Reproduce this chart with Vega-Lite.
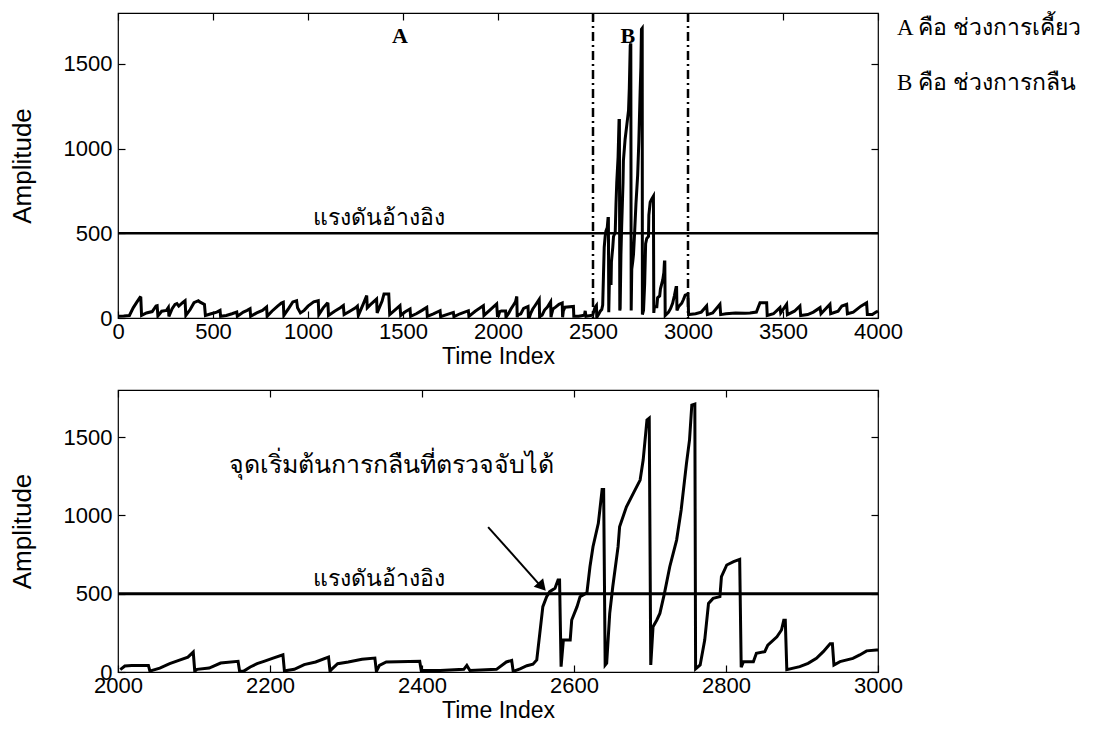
{
  "$schema": "https://vega.github.io/schema/vega-lite/v6.json",
  "padding": {"left": 8, "top": 11, "right": 5, "bottom": 5},
  "spacing": 19,
  "background": "white",
  "config": {
    "view": {"stroke": "black", "strokeWidth": 1.2},
    "axis": {
      "domain": false, "grid": false, "tickColor": "black", "tickSize": -7, "tickWidth": 1.2,
      "labelFont": "Liberation Sans", "labelFontSize": 22, "labelColor": "black",
      "labelFlush": false, "labelOverlap": false, "format": "d",
      "titleFont": "Liberation Sans", "titleFontSize": 23, "titleFontWeight": "normal", "titleColor": "black"
    }
  },
  "datasets": {
    "sig": [
      {"t":0,"v":10},{"t":30,"v":12},{"t":60,"v":15},{"t":80,"v":60},{"t":100,"v":95},{"t":116,"v":122},{"t":120,"v":120},{"t":124,"v":15},
      {"t":150,"v":30},{"t":180,"v":38},{"t":200,"v":70},{"t":206,"v":72},{"t":210,"v":12},
      {"t":230,"v":40},{"t":255,"v":45},{"t":265,"v":62},{"t":268,"v":10},
      {"t":285,"v":55},{"t":300,"v":80},{"t":310,"v":85},{"t":320,"v":70},{"t":340,"v":90},{"t":353,"v":102},{"t":357,"v":15},
      {"t":380,"v":50},{"t":400,"v":90},{"t":423,"v":102},{"t":430,"v":95},{"t":455,"v":80},{"t":460,"v":15},
      {"t":490,"v":25},{"t":520,"v":35},{"t":537,"v":45},{"t":540,"v":10},
      {"t":570,"v":15},{"t":600,"v":25},{"t":625,"v":35},{"t":628,"v":10},
      {"t":660,"v":35},{"t":680,"v":45},{"t":695,"v":55},{"t":698,"v":10},
      {"t":730,"v":30},{"t":760,"v":45},{"t":782,"v":65},{"t":785,"v":10},
      {"t":810,"v":40},{"t":840,"v":70},{"t":860,"v":88},{"t":870,"v":93},{"t":873,"v":15},
      {"t":900,"v":60},{"t":920,"v":95},{"t":940,"v":102},{"t":945,"v":60},{"t":960,"v":30},
      {"t":980,"v":45},{"t":1000,"v":70},{"t":1030,"v":95},{"t":1054,"v":102},{"t":1057,"v":20},
      {"t":1080,"v":60},{"t":1100,"v":85},{"t":1105,"v":83},{"t":1108,"v":15},
      {"t":1140,"v":40},{"t":1170,"v":60},{"t":1186,"v":73},{"t":1190,"v":20},
      {"t":1220,"v":40},{"t":1250,"v":60},{"t":1260,"v":70},{"t":1265,"v":15},
      {"t":1290,"v":80},{"t":1309,"v":132},{"t":1312,"v":60},{"t":1330,"v":80},{"t":1361,"v":112},{"t":1364,"v":30},
      {"t":1390,"v":100},{"t":1400,"v":142},{"t":1425,"v":142},{"t":1430,"v":20},
      {"t":1460,"v":50},{"t":1484,"v":73},{"t":1488,"v":15},
      {"t":1510,"v":35},{"t":1537,"v":53},{"t":1540,"v":10},
      {"t":1570,"v":25},{"t":1600,"v":45},{"t":1625,"v":63},{"t":1628,"v":10},
      {"t":1660,"v":25},{"t":1695,"v":43},{"t":1698,"v":8},
      {"t":1730,"v":20},{"t":1765,"v":33},{"t":1768,"v":8},
      {"t":1800,"v":25},{"t":1844,"v":43},{"t":1847,"v":10},
      {"t":1880,"v":40},{"t":1923,"v":73},{"t":1926,"v":15},
      {"t":1960,"v":50},{"t":1993,"v":83},{"t":1997,"v":15},
      {"t":2003,"v":15},{"t":2009,"v":38},{"t":2018,"v":42},{"t":2040,"v":42},{"t":2042,"v":5},
      {"t":2045,"v":10},{"t":2055,"v":25},{"t":2068,"v":53},{"t":2080,"v":74},{"t":2092,"v":95},{"t":2099,"v":127},{"t":2101,"v":5},
      {"t":2104,"v":17},{"t":2120,"v":25},{"t":2135,"v":57},{"t":2158,"v":68},{"t":2160,"v":5},
      {"t":2165,"v":4},{"t":2174,"v":32},{"t":2183,"v":53},{"t":2192,"v":68},{"t":2205,"v":90},{"t":2217,"v":110},{"t":2219,"v":5},
      {"t":2222,"v":10},{"t":2232,"v":17},{"t":2245,"v":47},{"t":2260,"v":64},{"t":2277,"v":95},{"t":2279,"v":5},
      {"t":2281,"v":17},{"t":2289,"v":53},{"t":2303,"v":64},{"t":2321,"v":81},{"t":2338,"v":89},{"t":2340,"v":4},
      {"t":2344,"v":42},{"t":2353,"v":64},{"t":2397,"v":68},{"t":2399,"v":10},
      {"t":2424,"v":10},{"t":2455,"v":17},{"t":2459,"v":42},{"t":2463,"v":10},
      {"t":2498,"v":17},{"t":2511,"v":64},{"t":2518,"v":74},{"t":2520,"v":4},
      {"t":2529,"v":20},{"t":2538,"v":40},{"t":2546,"v":50},{"t":2551,"v":77},{"t":2555,"v":247},{"t":2559,"v":417},{"t":2564,"v":481},{"t":2568,"v":513},{"t":2575,"v":534},{"t":2579,"v":587},{"t":2581,"v":587},{"t":2583,"v":34},
      {"t":2586,"v":204},{"t":2595,"v":204},{"t":2597,"v":332},{"t":2604,"v":417},{"t":2608,"v":481},{"t":2617,"v":506},{"t":2621,"v":672},{"t":2625,"v":800},{"t":2632,"v":949},{"t":2634,"v":1034},{"t":2637,"v":1165},{"t":2639,"v":1165},{"t":2641,"v":45},
      {"t":2643,"v":57},{"t":2647,"v":374},{"t":2651,"v":544},{"t":2658,"v":800},{"t":2660,"v":927},{"t":2669,"v":1055},{"t":2678,"v":1140},{"t":2687,"v":1225},{"t":2691,"v":1353},{"t":2696,"v":1608},{"t":2699,"v":1620},{"t":2701,"v":45},
      {"t":2704,"v":289},{"t":2709,"v":332},{"t":2713,"v":374},{"t":2719,"v":502},{"t":2726,"v":672},{"t":2735,"v":842},{"t":2741,"v":1034},{"t":2748,"v":1332},{"t":2752,"v":1481},{"t":2755,"v":1704},{"t":2759,"v":1710},{"t":2760,"v":20},
      {"t":2766,"v":45},{"t":2772,"v":204},{"t":2777,"v":438},{"t":2783,"v":470},{"t":2792,"v":481},{"t":2794,"v":608},{"t":2801,"v":683},{"t":2810,"v":704},{"t":2818,"v":719},{"t":2820,"v":30},
      {"t":2823,"v":66},{"t":2836,"v":66},{"t":2840,"v":119},{"t":2851,"v":130},{"t":2855,"v":172},{"t":2867,"v":225},{"t":2873,"v":268},{"t":2876,"v":330},{"t":2878,"v":330},{"t":2880,"v":15},
      {"t":2897,"v":34},{"t":2908,"v":55},{"t":2919,"v":87},{"t":2928,"v":130},{"t":2937,"v":180},{"t":2940,"v":180},{"t":2942,"v":45},
      {"t":2950,"v":66},{"t":2967,"v":87},{"t":2976,"v":109},{"t":2985,"v":135},{"t":2998,"v":140},{"t":3000,"v":140},
      {"t":3003,"v":20},{"t":3040,"v":25},{"t":3070,"v":35},{"t":3098,"v":71},{"t":3102,"v":20},
      {"t":3130,"v":30},{"t":3168,"v":81},{"t":3172,"v":20},
      {"t":3200,"v":25},{"t":3250,"v":30},{"t":3300,"v":28},{"t":3326,"v":30},{"t":3360,"v":35},{"t":3379,"v":90},{"t":3414,"v":90},{"t":3417,"v":15},
      {"t":3450,"v":25},{"t":3484,"v":61},{"t":3488,"v":30},{"t":3519,"v":81},{"t":3523,"v":20},
      {"t":3560,"v":40},{"t":3589,"v":71},{"t":3593,"v":15},
      {"t":3630,"v":20},{"t":3660,"v":35},{"t":3695,"v":61},{"t":3700,"v":25},{"t":3747,"v":81},{"t":3751,"v":25},
      {"t":3790,"v":40},{"t":3810,"v":71},{"t":3835,"v":81},{"t":3839,"v":25},
      {"t":3870,"v":35},{"t":3910,"v":70},{"t":3940,"v":90},{"t":3944,"v":20},
      {"t":3970,"v":20},{"t":3990,"v":35},{"t":4000,"v":40}
    ]
  },
  "vconcat": [
    {
      "width": 760, "height": 305,
      "layer": [
        {
          "data": {"name": "sig"},
          "mark": {"type": "line", "color": "black", "strokeWidth": 3, "clip": true},
          "encoding": {
            "x": {"field": "t", "type": "quantitative", "scale": {"domain": [0, 4000], "nice": false},
                  "axis": {"orient": "bottom", "title": "Time Index", "values": [0,500,1000,1500,2000,2500,3000,3500,4000], "labelPadding": 10, "titlePadding": -3, "minExtent": 30, "maxExtent": 30}},
            "y": {"field": "v", "type": "quantitative", "scale": {"domain": [0, 1800], "nice": false},
                  "axis": {"orient": "left", "title": "Amplitude", "titleFontSize": 26, "values": [0,500,1000,1500], "labelPadding": 13, "titleX": -96, "titleBaseline": "middle", "minExtent": 60, "maxExtent": 60}}
          }
        },
        {
          "data": {"values": [{"y": 500}]},
          "mark": {"type": "rule", "color": "black", "strokeWidth": 2.5},
          "encoding": {
            "y": {"field": "y", "type": "quantitative", "scale": {"domain": [0, 1800], "nice": false},
                  "axis": {"orient": "right", "labels": false, "title": null, "values": [0,500,1000,1500]}}
          }
        },
        {
          "data": {"values": [{"x": 2500}, {"x": 3000}]},
          "mark": {"type": "rule", "color": "black", "strokeWidth": 2.5, "strokeDash": [9, 4, 2, 4]},
          "encoding": {
            "x": {"field": "x", "type": "quantitative", "scale": {"domain": [0, 4000], "nice": false},
                  "axis": {"orient": "top", "labels": false, "title": null, "values": [0,500,1000,1500,2000,2500,3000,3500,4000]}}
          }
        },
        {
          "data": {"values": [{"x": 1484, "y": 1665, "label": "A"}, {"x": 2684, "y": 1665, "label": "B"}]},
          "mark": {"type": "text", "font": "Liberation Serif", "fontSize": 22, "fontWeight": "bold", "color": "black", "align": "center", "baseline": "middle"},
          "encoding": {
            "x": {"field": "x", "type": "quantitative", "scale": {"domain": [0, 4000], "nice": false}, "axis": null},
            "y": {"field": "y", "type": "quantitative", "scale": {"domain": [0, 1800], "nice": false}, "axis": null},
            "text": {"field": "label"}
          }
        },
        {
          "data": {"values": [{"x": 1374, "y": 500, "label": "แรงดันอ้างอิง"}]},
          "mark": {"type": "text", "font": "Liberation Serif", "fontSize": 23, "color": "black", "align": "center", "baseline": "bottom", "dy": -3},
          "encoding": {
            "x": {"field": "x", "type": "quantitative", "scale": {"domain": [0, 4000], "nice": false}, "axis": null},
            "y": {"field": "y", "type": "quantitative", "scale": {"domain": [0, 1800], "nice": false}, "axis": null},
            "text": {"field": "label"}
          }
        },
        {
          "data": {"values": [{"x": 4100, "y": 1712, "label": "A คือ ช่วงการเคี้ยว"}, {"x": 4100, "y": 1387, "label": "B คือ ช่วงการกลืน"}]},
          "mark": {"type": "text", "font": "Liberation Serif", "fontSize": 23, "color": "black", "align": "left", "baseline": "middle"},
          "encoding": {
            "x": {"field": "x", "type": "quantitative", "scale": {"domain": [0, 4000], "nice": false}, "axis": null},
            "y": {"field": "y", "type": "quantitative", "scale": {"domain": [0, 1800], "nice": false}, "axis": null},
            "text": {"field": "label"}
          }
        }
      ],
      "resolve": {"axis": {"x": "independent", "y": "independent"}}
    },
    {
      "width": 760, "height": 282,
      "layer": [
        {
          "data": {"name": "sig"},
          "transform": [{"filter": "datum.t >= 2000 && datum.t <= 3000"}],
          "mark": {"type": "line", "color": "black", "strokeWidth": 3, "clip": true},
          "encoding": {
            "x": {"field": "t", "type": "quantitative", "scale": {"domain": [2000, 3000], "nice": false},
                  "axis": {"orient": "bottom", "title": "Time Index", "values": [2000,2200,2400,2600,2800,3000], "labelPadding": 10, "titlePadding": -3, "minExtent": 30, "maxExtent": 30}},
            "y": {"field": "v", "type": "quantitative", "scale": {"domain": [0, 1800], "nice": false},
                  "axis": {"orient": "left", "title": "Amplitude", "titleFontSize": 26, "values": [0,500,1000,1500], "labelPadding": 13, "titleX": -96, "titleBaseline": "middle", "minExtent": 60, "maxExtent": 60}}
          }
        },
        {
          "data": {"values": [{"y": 500}]},
          "mark": {"type": "rule", "color": "black", "strokeWidth": 3},
          "encoding": {
            "y": {"field": "y", "type": "quantitative", "scale": {"domain": [0, 1800], "nice": false},
                  "axis": {"orient": "right", "labels": false, "title": null, "values": [0,500,1000,1500]}}
          }
        },
        {
          "data": {"values": [{"x": 2000}]},
          "mark": {"type": "point", "opacity": 0},
          "encoding": {
            "x": {"field": "x", "type": "quantitative", "scale": {"domain": [2000, 3000], "nice": false},
                  "axis": {"orient": "top", "labels": false, "title": null, "values": [2000,2200,2400,2600,2800,3000]}}
          }
        },
        {
          "data": {"values": [{"x": 2343, "y": 500, "label": "แรงดันอ้างอิง"}]},
          "mark": {"type": "text", "font": "Liberation Serif", "fontSize": 23, "color": "black", "align": "center", "baseline": "bottom", "dy": -3},
          "encoding": {
            "x": {"field": "x", "type": "quantitative", "scale": {"domain": [2000, 3000], "nice": false}, "axis": null},
            "y": {"field": "y", "type": "quantitative", "scale": {"domain": [0, 1800], "nice": false}, "axis": null},
            "text": {"field": "label"}
          }
        },
        {
          "data": {"values": [{"x": 2360, "y": 1320, "label": "จุดเริ่มต้นการกลืนที่ตรวจจับได้"}]},
          "mark": {"type": "text", "font": "Liberation Serif", "fontSize": 25, "color": "black", "align": "center", "baseline": "middle"},
          "encoding": {
            "x": {"field": "x", "type": "quantitative", "scale": {"domain": [2000, 3000], "nice": false}, "axis": null},
            "y": {"field": "y", "type": "quantitative", "scale": {"domain": [0, 1800], "nice": false}, "axis": null},
            "text": {"field": "label"}
          }
        },
        {
          "data": {"values": [{"x": 2487, "y": 925, "x2": 2556, "y2": 550}]},
          "mark": {"type": "rule", "color": "black", "strokeWidth": 2},
          "encoding": {
            "x": {"field": "x", "type": "quantitative", "scale": {"domain": [2000, 3000], "nice": false}, "axis": null},
            "y": {"field": "y", "type": "quantitative", "scale": {"domain": [0, 1800], "nice": false}, "axis": null},
            "x2": {"field": "x2"},
            "y2": {"field": "y2"}
          }
        },
        {
          "data": {"values": [{"x": 2558, "y": 545}]},
          "mark": {"type": "point", "shape": "triangle-up", "filled": true, "color": "black", "opacity": 1, "size": 160, "angle": 138},
          "encoding": {
            "x": {"field": "x", "type": "quantitative", "scale": {"domain": [2000, 3000], "nice": false}, "axis": null},
            "y": {"field": "y", "type": "quantitative", "scale": {"domain": [0, 1800], "nice": false}, "axis": null}
          }
        }
      ],
      "resolve": {"axis": {"x": "independent", "y": "independent"}}
    }
  ]
}
